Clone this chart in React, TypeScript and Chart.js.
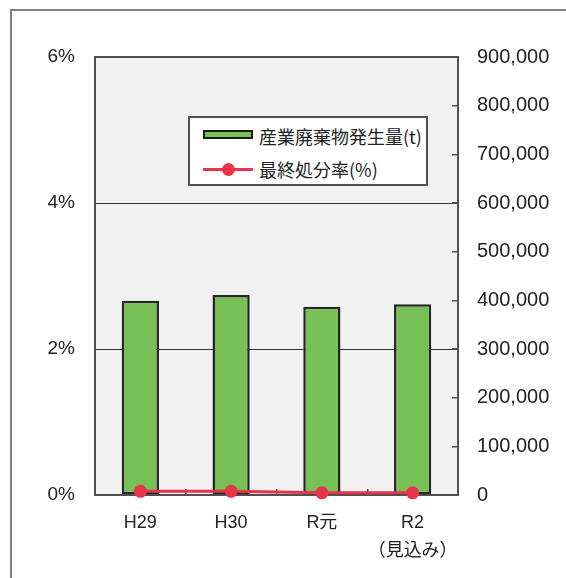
import React, { useEffect, useRef } from 'react';
import { Chart, registerables } from 'chart.js';

Chart.register(...registerables);

const categories: (string | string[])[] = ['H29', 'H30', 'R元', ['R2', '（見込み）']];
const wasteAmount = [399000, 411000, 387000, 392000];
const disposalRate = [0.05, 0.05, 0.03, 0.03];
const wasteLabel = '産業廃棄物発生量(t)';
const rateLabel = '最終処分率(%)';
const rateAxis = { min: 0, max: 6, step: 2 };
const amountAxis = { min: 0, max: 900000, step: 100000 };

const GREEN = '#76C056';
const RED = '#E8344A';
const FRAME = '#505050';

const plotFrame = {
  id: 'plotFrame',
  beforeDraw(chart: any) {
    const { ctx, chartArea } = chart;
    const { left, top, right, bottom } = chartArea;
    ctx.save();
    ctx.fillStyle = '#F0F1F0';
    ctx.fillRect(left, top, right - left, bottom - top);
    ctx.restore();
  },
  beforeDatasetsDraw(chart: any) {
    const { ctx, chartArea } = chart;
    const { left, top, right, bottom } = chartArea;
    ctx.save();
    ctx.strokeStyle = FRAME;
    ctx.lineWidth = 2;
    ctx.strokeRect(left, top, right - left, bottom - top);
    ctx.restore();
  },
};

export default function App() {
  const canvasRef = useRef<HTMLCanvasElement | null>(null);

  useEffect(() => {
    const canvas = canvasRef.current;
    if (!canvas) return;
    const chart = new Chart(canvas, {
      type: 'bar',
      data: {
        labels: categories as any,
        datasets: [
          {
            type: 'line',
            label: rateLabel,
            data: disposalRate,
            yAxisID: 'y',
            borderColor: RED,
            backgroundColor: RED,
            borderWidth: 3,
            pointRadius: 6.5,
            pointBorderWidth: 0,
            pointBackgroundColor: RED,
            clip: false as any,
            order: 0,
          } as any,
          {
            type: 'bar',
            label: wasteLabel,
            data: wasteAmount,
            yAxisID: 'y1',
            backgroundColor: GREEN,
            borderColor: '#262626',
            borderWidth: 2.5,
            borderSkipped: false,
            barPercentage: 0.41,
            categoryPercentage: 1,
            order: 1,
          } as any,
        ],
      },
      options: {
        responsive: false,
        animation: false,
        devicePixelRatio: 1,
        layout: { padding: { top: 57, left: 0, right: 0, bottom: 0 } },
        plugins: {
          legend: { display: false },
          tooltip: { enabled: false },
        },
        scales: {
          x: {
            position: 'bottom',
            border: { display: false },
            grid: {
              drawOnChartArea: false,
              drawTicks: true,
              tickLength: -6,
              color: FRAME,
              lineWidth: 1.5,
            },
            ticks: {
              color: '#222',
              padding: 20.5,
              font: { family: '"Liberation Sans", "Noto Sans CJK JP", sans-serif', size: 18, lineHeight: 1.54 },
              maxRotation: 0,
              autoSkip: false,
            },
            afterFit(scale: any) {
              scale.height = 578 - 495;
            },
          },
          y: {
            position: 'left',
            min: rateAxis.min,
            max: rateAxis.max,
            border: { display: false },
            grid: {
              drawTicks: false,
              color: '#333',
              lineWidth: 1,
            },
            ticks: {
              stepSize: rateAxis.step,
              padding: 20,
              color: '#222',
              font: { family: '"Liberation Sans", sans-serif', size: 19 },
              callback: (v: any) => `${v}%`,
            },
            afterFit(scale: any) {
              scale.width = 95;
            },
          },
          y1: {
            position: 'right',
            min: amountAxis.min,
            max: amountAxis.max,
            border: { display: false },
            grid: {
              drawOnChartArea: false,
              drawTicks: true,
              tickLength: -6,
              color: FRAME,
              lineWidth: 1.5,
            },
            ticks: {
              stepSize: amountAxis.step,
              padding: 25,
              color: '#222',
              font: { family: '"Liberation Sans", sans-serif', size: 20 },
              callback: (v: any) => Number(v).toLocaleString('en-US'),
            },
            afterFit(scale: any) {
              scale.width = 566 - 458;
            },
          },
        },
      } as any,
      plugins: [plotFrame],
    });
    return () => chart.destroy();
  }, []);

  const textFont = '"Noto Sans CJK JP", "Liberation Sans", sans-serif';

  return (
    <div style={{ position: 'fixed', left: 0, top: 0, width: 566, height: 578, overflow: 'hidden', background: '#fff' }}>
      <div
        style={{
          position: 'absolute',
          left: 10,
          top: 9,
          width: 700,
          height: 700,
          borderLeft: '2px solid #808080',
          borderTop: '2px solid #808080',
        }}
      />
      <canvas
        ref={canvasRef}
        width={566}
        height={578}
        style={{ position: 'absolute', left: 0, top: 0, width: 566, height: 578 }}
      />
      <div
        style={{
          position: 'absolute',
          left: 188,
          top: 116,
          width: 240,
          height: 70,
          boxSizing: 'border-box',
          border: `2px solid ${FRAME}`,
          background: '#fff',
          fontFamily: textFont,
          fontSize: 18,
          color: '#222',
        }}
      >
        <div
          style={{
            position: 'absolute',
            left: 13,
            top: 12,
            width: 50,
            height: 9,
            boxSizing: 'border-box',
            border: '2px solid #1a1a1a',
            background: GREEN,
          }}
        />
        <div style={{ position: 'absolute', left: 69, top: 5, lineHeight: '26px', whiteSpace: 'nowrap' }}>{wasteLabel}</div>
        <div
          style={{
            position: 'absolute',
            left: 13,
            top: 49.5,
            width: 50,
            height: 3,
            background: RED,
          }}
        />
        <div
          style={{
            position: 'absolute',
            left: 32,
            top: 44.5,
            width: 13,
            height: 13,
            borderRadius: '50%',
            background: RED,
          }}
        />
        <div style={{ position: 'absolute', left: 69, top: 38, lineHeight: '26px', whiteSpace: 'nowrap' }}>{rateLabel}</div>
      </div>
    </div>
  );
}
